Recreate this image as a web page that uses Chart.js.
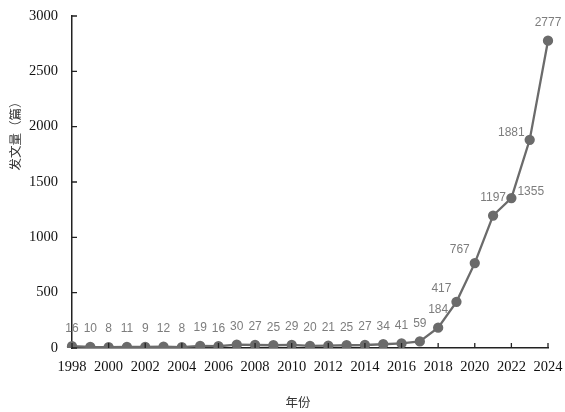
<!DOCTYPE html>
<html>
<head>
<meta charset="utf-8">
<script src="https://cdn.jsdelivr.net/npm/chart.js@4"></script>
<style>
  body { margin: 0; background: #fff; }
</style>
</head>
<body>
<canvas id="pubChart" width="565" height="412"></canvas>
<script>
const years = ['1998','1999','2000','2001','2002','2003','2004','2005','2006','2007','2008','2009','2010',
  '2011','2012','2013','2014','2015','2016','2017','2018','2019','2020','2021','2022','2023','2024'];
const papers = [16, 10, 8, 11, 9, 12, 8, 19, 16, 30, 27, 25, 29, 20, 21, 25, 27, 34, 41, 59,
  184, 417, 767, 1197, 1355, 1881, 2777];
// where each value label sits: t = above, l = left, r = right
const labelPos = ['t','t','t','t','t','t','t','t','t','t','t','t','t','t','t','t','t','t','t','t',
  't','l','l','t','r','l','t'];
const yTicks = [0, 500, 1000, 1500, 2000, 2500, 3000];

const lineGray = '#6b6b6b';

// value labels + inward tick marks + axis titles
const extras = {
  id: 'extras',
  afterDatasetsDraw(chart) {
    const ctx = chart.ctx;
    const pts = chart.getDatasetMeta(0).data;
    ctx.save();
    ctx.font = '12px "Liberation Sans", Arial, sans-serif';
    ctx.fillStyle = '#7d7d7d';
    ctx.textBaseline = 'middle';
    pts.forEach((p, i) => {
      const pos = labelPos[i];
      if (pos === 'l') {
        ctx.textAlign = 'right';
        ctx.fillText(papers[i], p.x - 5, p.y - (i === 25 ? 7 : 13));
      } else if (pos === 'r') {
        ctx.textAlign = 'left';
        ctx.fillText(papers[i], p.x + 6, p.y - 6);
      } else {
        ctx.textAlign = 'center';
        ctx.fillText(papers[i], p.x, p.y - 18);
      }
    });
    ctx.restore();
  },
  afterDraw(chart) {
    const ctx = chart.ctx;
    const x = chart.scales.x, y = chart.scales.y;
    ctx.save();
    ctx.strokeStyle = '#222';
    ctx.lineWidth = 1.3;
    ctx.beginPath();
    y.ticks.forEach((t, i) => {
      const py = y.getPixelForTick(i);
      ctx.moveTo(x.left, py); ctx.lineTo(x.left + 5, py);
    });
    years.forEach((yr, i) => {
      if (i % 2 === 0) {
        const px = x.getPixelForTick(i);
        ctx.moveTo(px, y.bottom); ctx.lineTo(px, y.bottom - 5);
      }
    });
    ctx.stroke();

    ctx.fillStyle = '#333';
    ctx.font = '12.5px "Noto Sans CJK SC", sans-serif';
    ctx.textAlign = 'center';
    ctx.textBaseline = 'middle';
    ctx.fillText('年份', 298, 402);
    ctx.translate(15, 133);
    ctx.rotate(-Math.PI / 2);
    ctx.fillText('发文量（篇）', 0, 0);
    ctx.restore();
  }
};

new Chart(document.getElementById('pubChart'), {
  type: 'line',
  data: {
    labels: years,
    datasets: [{
      data: papers,
      borderColor: lineGray,
      backgroundColor: lineGray,
      borderWidth: 2.3,
      pointRadius: 4,
      pointBackgroundColor: lineGray,
      pointBorderColor: lineGray,
      tension: 0
    }]
  },
  options: {
    responsive: false,
    animation: false,
    layout: { padding: { left: 0, right: 17, top: 16, bottom: 0 } },
    plugins: {
      legend: { display: false },
      tooltip: { enabled: false }
    },
    scales: {
      x: {
        type: 'category',
        offset: false,
        afterFit: s => { s.height = 64; s.paddingLeft = 0; s.paddingRight = 0; },
        grid: { display: false, drawTicks: false },
        border: { color: '#222', width: 1.5 },
        ticks: {
          autoSkip: false,
          maxRotation: 0,
          padding: 10,
          color: '#111',
          font: { family: '"Liberation Serif", "Times New Roman", serif', size: 14.5 },
          callback: (v, i) => (i % 2 === 0 ? years[i] : '')
        }
      },
      y: {
        min: 0,
        max: 3000,
        afterFit: s => { s.width = 72; s.paddingTop = 0; s.paddingBottom = 0; },
        afterBuildTicks: s => { s.ticks = yTicks.map(v => ({ value: v })); },
        grid: { display: false, drawTicks: false },
        border: { color: '#222', width: 1.5 },
        ticks: {
          padding: 14,
          color: '#111',
          font: { family: '"Liberation Serif", "Times New Roman", serif', size: 14.5 },
          callback: v => String(v)
        }
      }
    }
  },
  plugins: [extras]
});
</script>
</body>
</html>
